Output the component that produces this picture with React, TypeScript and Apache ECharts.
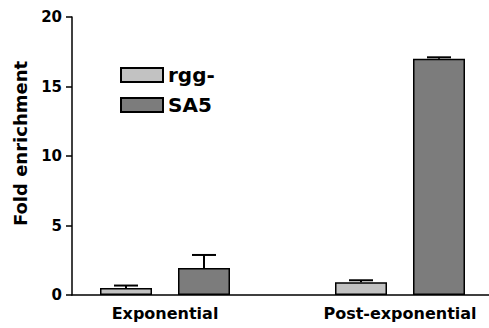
import React, { useEffect, useRef } from "react";
import * as echarts from "echarts";

const categories = ["Exponential", "Post-exponential"];
const seriesNames = ["rgg-", "SA5"];
const rggMean = [0.5, 0.91];
const rggErr = [0.18, 0.15];
const sa5Mean = [1.95, 17.0];
const sa5Err = [0.93, 0.1];
const yTicks = { min: 0, max: 20, interval: 5 };

const FONT = "DejaVu Sans";
const BAR_W = 52;
const BAR_GAP = 0.5;
const colors = ["#c2c2c2", "#7c7c7c"];

export default function App() {
  const ref = useRef<HTMLDivElement>(null);
  useEffect(() => {
    document.body.style.margin = "0";
    if (!ref.current) return;
    const chart = echarts.init(ref.current, undefined, { renderer: "svg" });
    const means = [rggMean, sa5Mean];
    const errs = [rggErr, sa5Err];
    const half = (BAR_W + BAR_W * BAR_GAP) / 2;
    const errSeries = means.map((m, si) => ({
      type: "custom",
      name: "err" + si,
      xAxisIndex: 0,
      yAxisIndex: 0,
      z: 1,
      data: m.map((v, i) => [i, v, v + errs[si][i]]),
      renderItem: (params: any, api: any) => {
        const ci = api.value(0);
        const lo = api.coord([ci, api.value(1)]);
        const hi = api.coord([ci, api.value(2)]);
        const x = lo[0] + (si === 0 ? -half : half);
        const cap = 12;
        return {
          type: "group",
          children: [
            { type: "line", shape: { x1: x, y1: lo[1], x2: x, y2: hi[1] }, style: { stroke: "#000", lineWidth: 2 } },
            { type: "line", shape: { x1: x - cap, y1: hi[1], x2: x + cap, y2: hi[1] }, style: { stroke: "#000", lineWidth: 2 } },
          ],
        };
      },
    }));
    chart.setOption({
      animation: false,
      grid: [
        { left: 47.5, width: 470, top: 17, bottom: 33, outerBoundsMode: "none", containLabel: false },
        { left: 72, right: 0, top: 17, bottom: 33, outerBoundsMode: "none", containLabel: false },
      ],
      legend: {
        data: seriesNames,
        orient: "vertical",
        left: 120,
        top: 65,
        padding: 0,
        itemWidth: 42,
        itemHeight: 14,
        itemGap: 10,
        icon: "rect",
        textStyle: { fontFamily: FONT, fontWeight: "bold", fontSize: 20, color: "#000" },
      },
      xAxis: [
        {
          type: "category",
          gridIndex: 0,
          data: categories,
          axisLine: { show: false },
          axisTick: { show: false },
          axisLabel: { margin: 10, fontFamily: FONT, fontWeight: "bold", fontSize: 16, color: "#000" },
        },
        {
          type: "value",
          gridIndex: 1,
          min: 0,
          max: 1,
          axisLine: { show: true, onZero: false, lineStyle: { color: "#000", width: 1.5 } },
          axisTick: { show: false },
          axisLabel: { show: false },
          splitLine: { show: false },
        },
      ],
      yAxis: [
        { type: "value", gridIndex: 0, ...yTicks, show: false, splitLine: { show: false } },
        {
          type: "value",
          gridIndex: 1,
          ...yTicks,
          axisLine: { show: true, lineStyle: { color: "#000", width: 1.5 } },
          axisTick: { show: true, length: 6, lineStyle: { color: "#000", width: 1.5 } },
          axisLabel: { margin: 10, fontFamily: FONT, fontWeight: "bold", fontSize: 15, color: "#000" },
          splitLine: { show: false },
        },
      ],
      graphic: [
        {
          type: "text",
          x: 20,
          y: 143.5,
          rotation: Math.PI / 2,
          style: {
            text: "Fold enrichment",
            fontFamily: FONT,
            fontWeight: "bold",
            fontSize: 18,
            fill: "#000",
            align: "center",
            verticalAlign: "middle",
          },
        },
      ],
      series: [
        ...means.map((m, si) => ({
          type: "bar",
          name: seriesNames[si],
          xAxisIndex: 0,
          yAxisIndex: 0,
          data: m,
          barWidth: BAR_W,
          barGap: BAR_GAP * 100 + "%",
          z: 2,
          itemStyle: { color: colors[si], borderColor: "#000", borderWidth: 1.5 },
        })),
        ...errSeries,
      ],
    });
    return () => chart.dispose();
  }, []);
  return <div ref={ref} style={{ width: 489, height: 328 }} />;
}
